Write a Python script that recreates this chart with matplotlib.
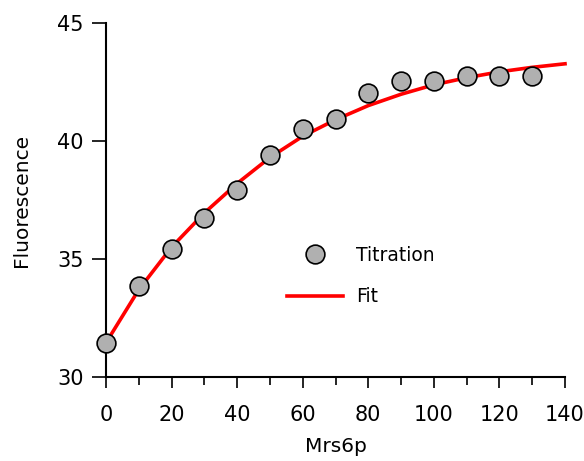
import numpy as np
import matplotlib
matplotlib.use("Agg")
import matplotlib.pyplot as plt
from matplotlib.ticker import MultipleLocator

# ------------------------------------------------------------
# data
# ------------------------------------------------------------
mrs6p = [0, 10, 20, 30, 40, 50, 60, 70, 80, 90, 100, 110, 120, 130]
titration = [31.44, 33.86, 35.42, 36.74, 37.92, 39.41, 40.51, 40.93,
             42.03, 42.54, 42.54, 42.75, 42.75, 42.75]

fit_x = [0, 10, 20, 30, 40, 50, 60, 70, 80, 90, 100, 110, 120, 130, 140]
fit_y = [31.45, 33.7, 35.5, 36.95, 38.2, 39.3, 40.2, 40.9, 41.5,
         41.98, 42.38, 42.68, 42.93, 43.12, 43.27]

# ------------------------------------------------------------
# figure
# ------------------------------------------------------------
plt.rcParams["font.family"] = ["DejaVu Sans"]

fig = plt.figure(figsize=(5.84, 4.61), dpi=100)
ax = fig.add_axes([0.1815, 0.1822, 0.786, 0.768])

ax.plot(fit_x, fit_y, color="red", linewidth=2.6, label="Fit",
        zorder=3, clip_on=False)
ax.plot(mrs6p, titration, linestyle="none", marker="o", markersize=13.5,
        markerfacecolor="#b0b0b0", markeredgecolor="black",
        markeredgewidth=1.2, label="Titration", zorder=4, clip_on=False)

ax.set_xlim(0, 140)
ax.set_ylim(30, 45)
ax.xaxis.set_major_locator(MultipleLocator(20))
ax.xaxis.set_minor_locator(MultipleLocator(10))
ax.yaxis.set_major_locator(MultipleLocator(5))

for side in ["top", "right"]:
    ax.spines[side].set_visible(False)
for side in ["left", "bottom"]:
    ax.spines[side].set_linewidth(1.5)

ax.tick_params(axis="y", which="major", direction="out", length=10,
               width=1.2, labelsize=15, pad=6)
ax.tick_params(axis="x", which="major", direction="out", length=8,
               width=1.2, labelsize=15, pad=12)
ax.tick_params(axis="x", which="minor", direction="out", length=6, width=1.2)

ax.set_xlabel("Mrs6p", fontsize=14.5, labelpad=9)
ax.set_ylabel("Fluorescence", fontsize=14.5, labelpad=19)

handles, labels = ax.get_legend_handles_labels()
ax.legend(handles[::-1], labels[::-1], loc="center",
          bbox_to_anchor=(0.555, 0.285), frameon=False, fontsize=13.5,
          handlelength=3.0, handletextpad=0.7, labelspacing=1.2)

plt.savefig("out.png", dpi=100)
